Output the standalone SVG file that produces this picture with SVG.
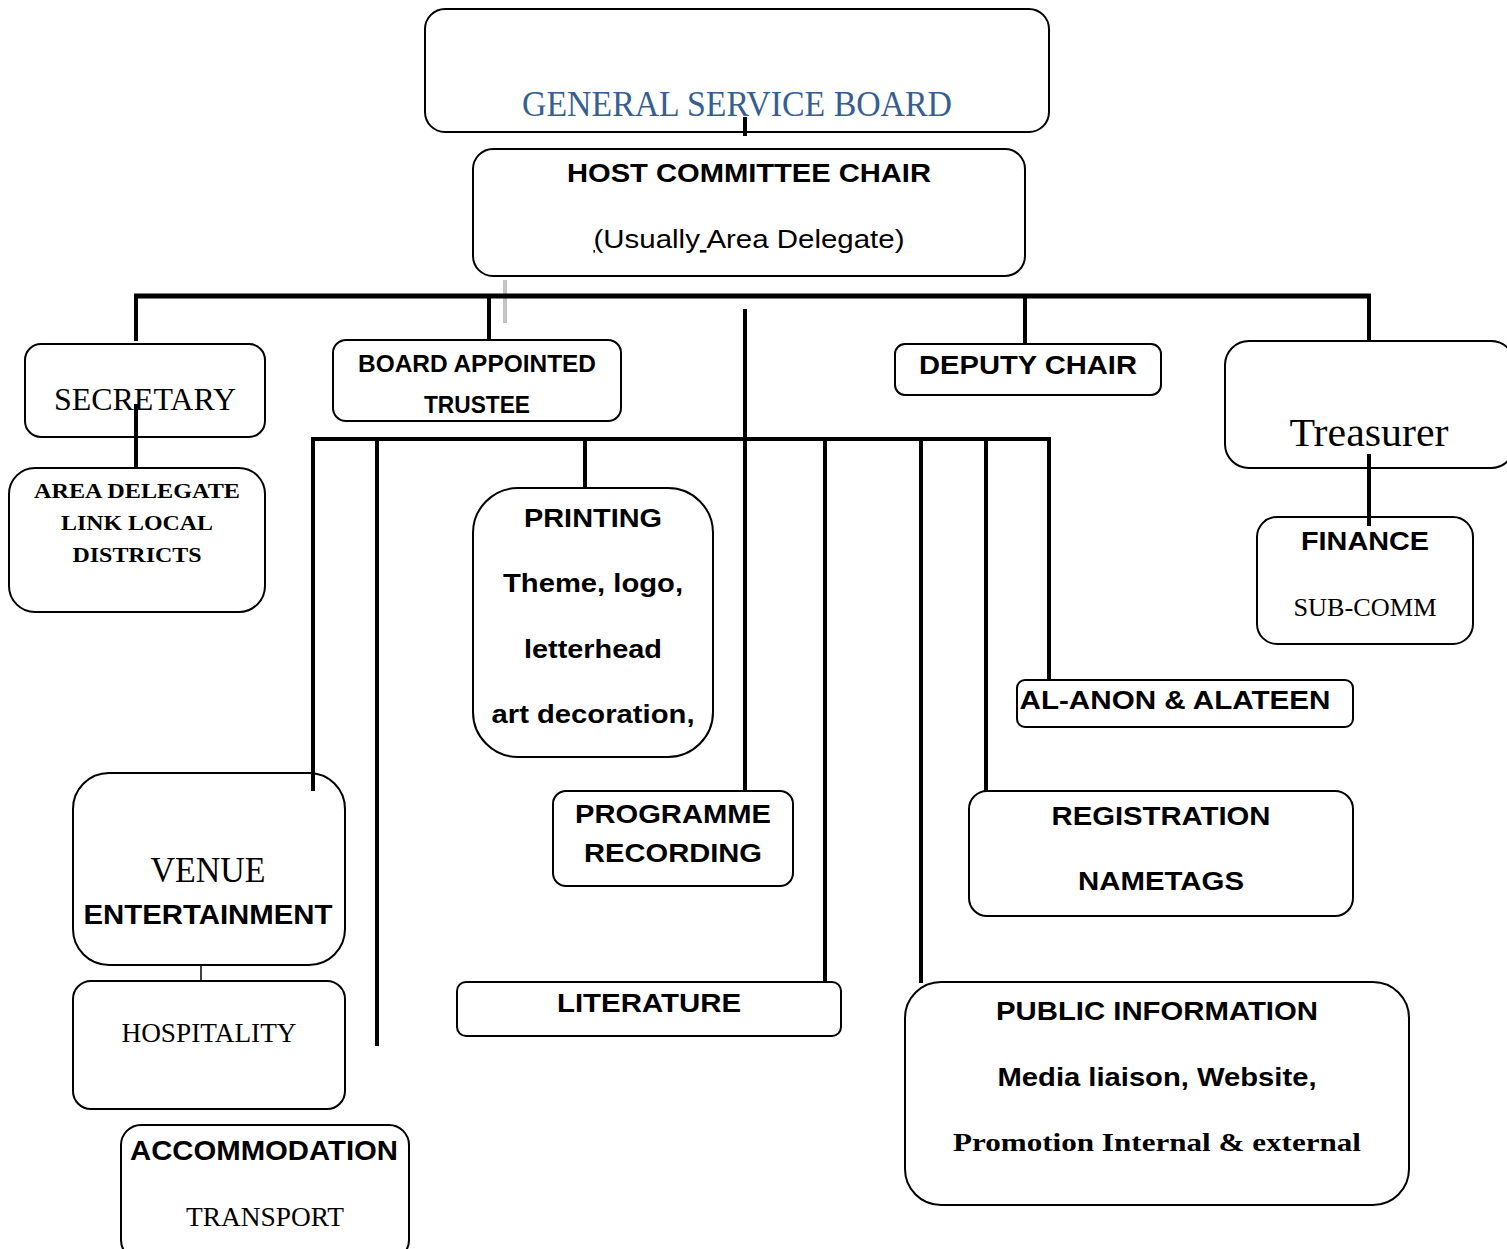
<svg xmlns="http://www.w3.org/2000/svg" width="1507" height="1249" viewBox="0 0 1507 1249">
  <style>
    .box { fill: #ffffff; stroke: #000000; stroke-width: 2; }
    .sans { font-family: "Liberation Sans", Arial, sans-serif; font-weight: bold; fill: #000; }
    .sansR { font-family: "Liberation Sans", Arial, sans-serif; fill: #000; }
    .serif { font-family: "Liberation Serif", "Times New Roman", serif; fill: #000; }
    .serifB { font-family: "Liberation Serif", "Times New Roman", serif; font-weight: bold; fill: #000; }
    .conn line { stroke: #000; stroke-width: 4; }
    text { text-anchor: middle; }
  </style>

  <rect width="1507" height="1249" fill="#ffffff"/>

  <!-- top level -->
  <g id="general-service-board">
    <rect class="box" x="425" y="9" width="624" height="123" rx="20"/>
    <text x="737" y="116" font-family="'Liberation Serif', 'Times New Roman', serif" font-size="35" fill="#365F91" textLength="430" lengthAdjust="spacingAndGlyphs">GENERAL SERVICE BOARD</text>
  </g>

  <g id="host-committee-chair">
    <rect class="box" x="473" y="149" width="552" height="127" rx="20"/>
    <text class="sans" x="749" y="182" font-size="26" textLength="364" lengthAdjust="spacingAndGlyphs">HOST COMMITTEE CHAIR</text>
    <text class="sansR" x="749" y="248" font-size="26" textLength="311" lengthAdjust="spacingAndGlyphs"><tspan text-decoration="underline">(</tspan>Usually<tspan text-decoration="underline"> </tspan>Area Delegate)</text>
  </g>

  <!-- officers -->
  <g id="secretary">
    <rect class="box" x="25" y="344" width="240" height="93" rx="16"/>
    <text class="serif" x="145" y="410" font-size="31" textLength="182" lengthAdjust="spacingAndGlyphs">SECRETARY</text>
  </g>

  <g id="area-delegate-link">
    <rect class="box" x="9" y="468" width="256" height="144" rx="26"/>
    <text class="serifB" x="137" y="498" font-size="22" textLength="206" lengthAdjust="spacingAndGlyphs">AREA DELEGATE</text>
    <text class="serifB" x="137" y="530" font-size="22" textLength="152" lengthAdjust="spacingAndGlyphs">LINK LOCAL</text>
    <text class="serifB" x="137" y="562" font-size="22" textLength="129" lengthAdjust="spacingAndGlyphs">DISTRICTS</text>
  </g>

  <g id="board-appointed-trustee">
    <rect class="box" x="333" y="340" width="288" height="81" rx="13"/>
    <text class="sans" x="477" y="372" font-size="24" textLength="238" lengthAdjust="spacingAndGlyphs">BOARD APPOINTED</text>
    <text class="sans" x="477" y="413" font-size="24" textLength="106" lengthAdjust="spacingAndGlyphs">TRUSTEE</text>
  </g>

  <g id="deputy-chair">
    <rect class="box" x="895" y="344" width="266" height="51" rx="10"/>
    <text class="sans" x="1028" y="374" font-size="26" textLength="218" lengthAdjust="spacingAndGlyphs">DEPUTY CHAIR</text>
  </g>

  <g id="treasurer">
    <rect class="box" x="1225" y="341" width="290" height="127" rx="24"/>
    <text class="serif" x="1369" y="446" font-size="39" textLength="159" lengthAdjust="spacingAndGlyphs">Treasurer</text>
  </g>

  <g id="finance-sub-comm">
    <rect class="box" x="1257" y="517" width="216" height="127" rx="20"/>
    <text class="sans" x="1365" y="550" font-size="26" textLength="128" lengthAdjust="spacingAndGlyphs">FINANCE</text>
    <text class="serif" x="1365" y="616" font-size="26" textLength="143" lengthAdjust="spacingAndGlyphs">SUB-COMM</text>
  </g>

  <!-- sub-committees -->
  <g id="printing">
    <rect class="box" x="473" y="488" width="240" height="269" rx="45"/>
    <text class="sans" x="593" y="527" font-size="26" textLength="138" lengthAdjust="spacingAndGlyphs">PRINTING</text>
    <text class="sans" x="593" y="592" font-size="26" textLength="180" lengthAdjust="spacingAndGlyphs">Theme, logo,</text>
    <text class="sans" x="593" y="658" font-size="26" textLength="138" lengthAdjust="spacingAndGlyphs">letterhead</text>
    <text class="sans" x="593" y="723" font-size="26" textLength="203" lengthAdjust="spacingAndGlyphs">art decoration,</text>
  </g>

  <g id="al-anon-alateen">
    <rect class="box" x="1017" y="680" width="336" height="47" rx="8"/>
    <text class="sans" x="1175" y="709" font-size="26" textLength="311" lengthAdjust="spacingAndGlyphs">AL-ANON &amp; ALATEEN</text>
  </g>

  <g id="programme-recording">
    <rect class="box" x="553" y="791" width="240" height="95" rx="13"/>
    <text class="sans" x="673" y="823" font-size="26" textLength="196" lengthAdjust="spacingAndGlyphs">PROGRAMME</text>
    <text class="sans" x="673" y="862" font-size="26" textLength="178" lengthAdjust="spacingAndGlyphs">RECORDING</text>
  </g>

  <g id="registration-nametags">
    <rect class="box" x="969" y="791" width="384" height="125" rx="18"/>
    <text class="sans" x="1161" y="825" font-size="26" textLength="219" lengthAdjust="spacingAndGlyphs">REGISTRATION</text>
    <text class="sans" x="1161" y="890" font-size="26" textLength="166" lengthAdjust="spacingAndGlyphs">NAMETAGS</text>
  </g>

  <g id="venue-entertainment">
    <rect class="box" x="73" y="773" width="272" height="192" rx="36"/>
    <text class="serif" x="208" y="882" font-size="36" textLength="115" lengthAdjust="spacingAndGlyphs">VENUE</text>
    <text class="sans" x="208" y="924" font-size="28" textLength="249" lengthAdjust="spacingAndGlyphs">ENTERTAINMENT</text>
  </g>

  <g id="hospitality">
    <rect class="box" x="73" y="981" width="272" height="128" rx="18"/>
    <text class="serif" x="209" y="1042" font-size="28" textLength="175" lengthAdjust="spacingAndGlyphs">HOSPITALITY</text>
  </g>

  <g id="accommodation-transport">
    <rect class="box" x="121" y="1125" width="288" height="135" rx="20"/>
    <text class="sans" x="264" y="1160" font-size="28" textLength="268" lengthAdjust="spacingAndGlyphs">ACCOMMODATION</text>
    <text class="serif" x="265" y="1226" font-size="28" textLength="158" lengthAdjust="spacingAndGlyphs">TRANSPORT</text>
  </g>

  <g id="literature">
    <rect class="box" x="457" y="982" width="384" height="54" rx="9"/>
    <text class="sans" x="649" y="1012" font-size="26" textLength="184" lengthAdjust="spacingAndGlyphs">LITERATURE</text>
  </g>

  <g id="public-information">
    <rect class="box" x="905" y="982" width="504" height="223" rx="36"/>
    <text class="sans" x="1157" y="1020" font-size="26" textLength="322" lengthAdjust="spacingAndGlyphs">PUBLIC INFORMATION</text>
    <text class="sans" x="1157" y="1086" font-size="26" textLength="319" lengthAdjust="spacingAndGlyphs">Media liaison, Website,</text>
    <text class="serifB" x="1157" y="1151" font-size="26" textLength="408" lengthAdjust="spacingAndGlyphs">Promotion Internal &amp; external</text>
  </g>

  <!-- connectors -->
  <g id="connectors" class="conn">
    <line x1="505" y1="280" x2="505" y2="323" style="stroke:#c4c4c4"/>
    <line x1="745" y1="117" x2="745" y2="136"/>
    <!-- officers bus -->
    <line x1="134" y1="296" x2="1371" y2="296" style="stroke-width:5"/>
    <line x1="136" y1="296" x2="136" y2="341"/>
    <line x1="489" y1="296" x2="489" y2="341"/>
    <line x1="1025" y1="296" x2="1025" y2="344"/>
    <line x1="1369" y1="296" x2="1369" y2="341"/>
    <line x1="136" y1="404" x2="136" y2="468"/>
    <line x1="1369" y1="454" x2="1369" y2="526"/>
    <line x1="745" y1="309" x2="745" y2="791"/>
    <!-- sub-committee bus -->
    <line x1="311" y1="439" x2="1051" y2="439"/>
    <line x1="313" y1="439" x2="313" y2="791"/>
    <line x1="377" y1="439" x2="377" y2="1046"/>
    <line x1="585" y1="439" x2="585" y2="488"/>
    <line x1="825" y1="439" x2="825" y2="983"/>
    <line x1="921" y1="439" x2="921" y2="983"/>
    <line x1="986" y1="439" x2="986" y2="791"/>
    <line x1="1049" y1="439" x2="1049" y2="681"/>
    <line x1="201" y1="965" x2="201" y2="981" style="stroke-width:1.5"/>
  </g>
</svg>
